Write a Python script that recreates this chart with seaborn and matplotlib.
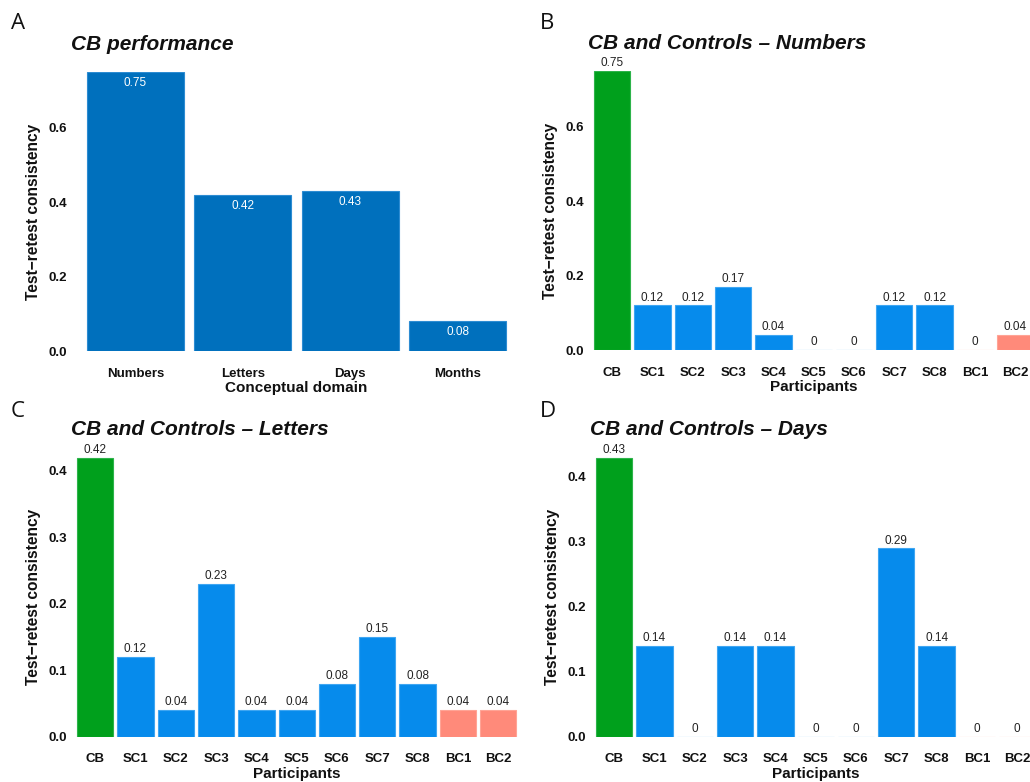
import matplotlib
matplotlib.use("Agg")
import matplotlib.pyplot as plt
import seaborn as sns
import pandas as pd

sns.set_theme(style="white")
plt.rcParams["font.family"] = ["Liberation Sans", "DejaVu Sans"]

# ---- data ----
domains = ["Numbers", "Letters", "Days", "Months"]
cb_scores = [0.75, 0.42, 0.43, 0.08]

participants = ["CB", "SC1", "SC2", "SC3", "SC4", "SC5", "SC6", "SC7", "SC8", "BC1", "BC2"]
groups = ["CB", "SC", "SC", "SC", "SC", "SC", "SC", "SC", "SC", "BC", "BC"]
numbers_scores = [0.75, 0.12, 0.12, 0.17, 0.04, 0.0, 0.0, 0.12, 0.12, 0.0, 0.04]
letters_scores = [0.42, 0.12, 0.04, 0.23, 0.04, 0.04, 0.08, 0.15, 0.08, 0.04, 0.04]
days_scores = [0.43, 0.14, 0.0, 0.14, 0.14, 0.0, 0.0, 0.29, 0.14, 0.0, 0.0]

group_colors = {"CB": "#00A01C", "SC": "#068BEC", "BC": "#FF8A7A"}
group_edges = {"CB": "#2DB34A", "SC": "#3FA6F2", "BC": "#FFA496"}
domain_color = "#0070BD"
domain_edge = "#2D8CD2"

W, H = 1030, 782
fig = plt.figure(figsize=(W / 100, H / 100), dpi=100)


def px_axes(left, top, right, bottom):
    return fig.add_axes([left / W, 1 - bottom / H, (right - left) / W, (bottom - top) / H])


def style_axes(ax, ylim, yticks, xlabel, title):
    ax.set_ylim(*ylim)
    ax.set_xlim(-0.6, len(ax.get_xticks()) - 0.4)
    ax.set_yticks(yticks)
    ax.set_yticklabels([f"{t:.1f}" for t in yticks])
    for s in ax.spines.values():
        s.set_visible(False)
    ax.set_facecolor("none")
    ax.tick_params(axis="x", length=0, pad=12, labelsize=9.5, labelcolor="#111111")
    ax.tick_params(axis="y", length=0, pad=3, labelsize=9.5, labelcolor="#111111")
    for lab in ax.get_xticklabels() + ax.get_yticklabels():
        lab.set_fontweight("bold")
    ax.set_xlabel(xlabel, fontsize=11, fontweight="bold", labelpad=1, color="#111111")
    ax.set_ylabel("Test\u2212retest consistency", fontsize=11.2, fontweight="bold",
                  labelpad=5, color="#111111")
    ax.set_title(title, loc="left", fontsize=15, fontweight="bold", fontstyle="italic",
                 pad=16, color="#111111")


def participant_panel(ax, scores, ymax, yticks, title):
    df = pd.DataFrame({"participant": participants, "score": scores, "group": groups})
    sns.barplot(data=df, x="participant", y="score", hue="group", palette=group_colors,
                order=participants, width=0.9, dodge=False, legend=False, ax=ax,
                linewidth=0.8, saturation=1)
    for patch, g in zip(sorted(ax.patches, key=lambda p: p.get_x()), groups):
        patch.set_edgecolor(group_edges[g])
    for i, v in enumerate(scores):
        ax.annotate(f"{v:g}", (i, v), xytext=(0, 1.2), textcoords="offset points",
                    ha="center", va="bottom", fontsize=8.5, color="#222222")
    style_axes(ax, (0, ymax), yticks, "Participants", title)


# Panel A: CB across conceptual domains
axA = px_axes(71, 72, 522, 351)
dfA = pd.DataFrame({"domain": domains, "score": cb_scores})
sns.barplot(data=dfA, x="domain", y="score", order=domains, color=domain_color,
            width=0.9, ax=axA, linewidth=0.8, edgecolor=domain_edge, saturation=1)
for i, v in enumerate(cb_scores):
    axA.annotate(f"{v:.2f}", (i, v), xytext=(0, -3.5), textcoords="offset points",
                 ha="center", va="top", fontsize=8.5, color="white")
style_axes(axA, (0, max(cb_scores)), [0.0, 0.2, 0.4, 0.6], "Conceptual domain", "CB performance")

# Panel B: numbers
axB = px_axes(588, 71, 588 + 11.2 * 40.3, 350)
participant_panel(axB, numbers_scores, max(numbers_scores), [0.0, 0.2, 0.4, 0.6],
                  "CB and Controls \u2013 Numbers")

# Panel C: letters
axC = px_axes(71, 457.5, 71 + 11.2 * 40.3, 736.7)
participant_panel(axC, letters_scores, max(letters_scores), [0.0, 0.1, 0.2, 0.3, 0.4],
                  "CB and Controls \u2013 Letters")

# Panel D: days
axD = px_axes(590, 457.5, 590 + 11.2 * 40.3, 736.7)
participant_panel(axD, days_scores, max(days_scores), [0.0, 0.1, 0.2, 0.3, 0.4],
                  "CB and Controls \u2013 Days")

# panel letters
for letter, x, y in [("A", 11, 29), ("B", 540, 29), ("C", 11, 417), ("D", 540, 417)]:
    fig.text(x / W, 1 - y / H, letter, fontsize=16, family=["Open Sans", "DejaVu Sans"],
             ha="left", va="baseline", color="#111111")

fig.savefig("out.png", dpi=100)
